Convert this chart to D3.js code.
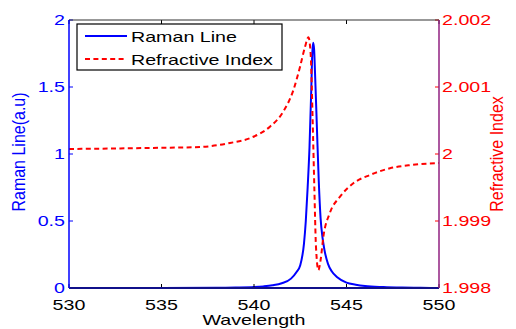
<!DOCTYPE html>
<html><head><meta charset="utf-8">
<script src="https://cdn.jsdelivr.net/npm/d3@7"></script>
<style>body{margin:0;background:#fff}svg{display:block}text{font-family:"Liberation Sans",Arial,sans-serif}</style>
</head><body><svg id="c" width="516" height="329"></svg>
<script>
const xTicks = [530, 535, 540, 545, 550];
const yLeftTicks = [0, 0.5, 1, 1.5, 2];
const yRightTicks = [1.998, 1.999, 2, 2.001, 2.002];
const yRightLabels = ["1.998", "1.999", "2", "2.001", "2.002"];

const ramanWavelength = [530, 535, 538, 539, 540, 540.5, 541, 541.5, 542, 542.3, 542.5, 542.7, 542.8, 542.9, 543.0, 543.1, 543.15, 543.2, 543.25, 543.3, 543.4, 543.5, 543.6, 543.7, 543.8, 544.0, 544.2, 544.5, 545, 545.5, 546, 547, 548, 549, 550];
const ramanValues     = [0, 0, 0.001, 0.003, 0.007, 0.012, 0.02, 0.035, 0.07, 0.12, 0.17, 0.33, 0.5, 0.75, 1.05, 1.5, 1.75, 1.83, 1.78, 1.6, 1.2, 0.8, 0.52, 0.38, 0.29, 0.18, 0.125, 0.08, 0.04, 0.025, 0.015, 0.007, 0.003, 0.001, 0];

const riWavelength = [530, 534.4, 537.1, 538.7, 539.8, 540.86, 541.58, 542.13, 542.49, 542.76, 542.94, 543.06, 543.17, 543.26, 543.35, 543.48, 543.6, 543.75, 544.1, 544.65, 545.37, 546.27, 547.35, 548.5, 550];
const riValues     = [2.000075, 2.00009, 2.000105, 2.000164, 2.000239, 2.000408, 2.000631, 2.000955, 2.001303, 2.001602, 2.001742, 2.001503, 2.000508, 1.999512, 1.998617, 1.998269, 1.998418, 1.998766, 1.99912, 1.999363, 1.999563, 1.999687, 1.999787, 1.999836, 1.999866];

const L = 69, R = 439, T = 20, B = 288;
const SX = 1.31;
const svg = d3.select("#c");
const x = d3.scaleLinear().domain([530, 550]).range([L, R]);
const yL = d3.scaleLinear().domain([0, 2]).range([B, T]);
const yR = d3.scaleLinear().domain([1.998, 2.002]).range([B, T]);

svg.append("defs").append("clipPath").attr("id", "clip")
  .append("rect").attr("x", L).attr("y", T - 2).attr("width", R - L).attr("height", B - T + 4);

// curves
const g = svg.append("g").attr("clip-path", "url(#clip)");
g.append("path")
  .datum(ramanWavelength.map((w, i) => [w, ramanValues[i]]))
  .attr("fill", "none").attr("stroke", "#0000ff").attr("stroke-width", 2)
  .attr("d", d3.line().x(d => x(d[0])).y(d => yL(d[1])).curve(d3.curveMonotoneX));
g.append("path")
  .datum(riWavelength.map((w, i) => [w, riValues[i]]))
  .attr("fill", "none").attr("stroke", "#ff0000").attr("stroke-width", 2)
  .attr("stroke-dasharray", "5,3.4")
  .attr("d", d3.line().x(d => x(d[0])).y(d => yR(d[1])).curve(d3.curveMonotoneX));

// ticks
const tk = 4;
xTicks.forEach(t => {
  svg.append("line").attr("x1", x(t)).attr("x2", x(t)).attr("y1", B).attr("y2", B - tk).attr("stroke", "#000");
  svg.append("line").attr("x1", x(t)).attr("x2", x(t)).attr("y1", T).attr("y2", T + tk).attr("stroke", "#000");
  svg.append("text").attr("transform", `translate(${x(t)},309.5) scale(${SX},1)`)
    .attr("text-anchor", "middle").attr("font-size", 15).attr("fill", "#000").text(t);
});
yLeftTicks.forEach(t => {
  svg.append("line").attr("x1", L).attr("x2", L + tk).attr("y1", yL(t)).attr("y2", yL(t)).attr("stroke", "#0000ff");
  svg.append("text").attr("transform", `translate(65,${yL(t)}) scale(${SX},1)`)
    .attr("text-anchor", "end").attr("dy", t === 0 ? "0.3em" : "0.36em").attr("font-size", 15).attr("fill", "#0000ff").text(t);
});
yRightTicks.forEach((t, i) => {
  svg.append("line").attr("x1", R).attr("x2", R - tk).attr("y1", yR(t)).attr("y2", yR(t)).attr("stroke", "#ff0000");
  svg.append("text").attr("transform", `translate(442,${yR(t)}) scale(${SX},1)`)
    .attr("text-anchor", "start").attr("dy", "0.36em").attr("font-size", 15).attr("fill", "#ff0000").text(yRightLabels[i]);
});

// frame
svg.append("line").attr("x1", L).attr("x2", R).attr("y1", T).attr("y2", T).attr("stroke", "#333").attr("stroke-width", 1.2);
svg.append("line").attr("x1", L).attr("x2", R).attr("y1", B).attr("y2", B).attr("stroke", "#10108a").attr("stroke-width", 1.8);
svg.append("line").attr("x1", L).attr("x2", L).attr("y1", T).attr("y2", B).attr("stroke", "#0000ff").attr("stroke-width", 1.5);
svg.append("line").attr("x1", R).attr("x2", R).attr("y1", T).attr("y2", B).attr("stroke", "#902080").attr("stroke-width", 1.5);

// axis titles
svg.append("text").attr("transform", `translate(254,325) scale(${SX},1)`).attr("text-anchor", "middle")
  .attr("font-size", 15).attr("fill", "#000").text("Wavelength");
svg.append("text").attr("transform", `translate(25,152) scale(1.15,1) rotate(-90)`).attr("text-anchor", "middle")
  .attr("font-size", 16).attr("fill", "#0000ff").text("Raman Line(a.u)");
svg.append("text").attr("transform", `translate(503,154) scale(1.15,1) rotate(-90)`).attr("text-anchor", "middle")
  .attr("font-size", 16).attr("fill", "#ff0000").text("Refractive Index");

// legend
const lg = svg.append("g");
lg.append("rect").attr("x", 77).attr("y", 24).attr("width", 205).attr("height", 46)
  .attr("fill", "#fff").attr("stroke", "#000").attr("stroke-width", 1.2);
lg.append("line").attr("x1", 85).attr("x2", 127).attr("y1", 36).attr("y2", 36).attr("stroke", "#0000ff").attr("stroke-width", 2);
lg.append("line").attr("x1", 85).attr("x2", 127).attr("y1", 59).attr("y2", 59).attr("stroke", "#ff0000").attr("stroke-width", 2).attr("stroke-dasharray", "5,3.4");
lg.append("text").attr("transform", `translate(131,41.7) scale(${SX},1)`).attr("font-size", 15).attr("fill", "#000").text("Raman Line");
lg.append("text").attr("transform", `translate(131,65) scale(${SX},1)`).attr("font-size", 15).attr("fill", "#000").text("Refractive Index");
</script></body></html>
